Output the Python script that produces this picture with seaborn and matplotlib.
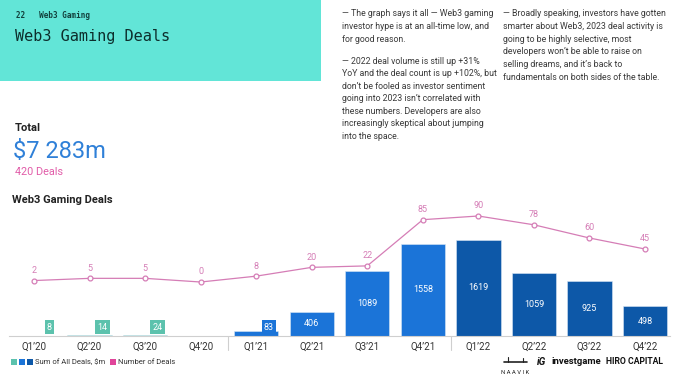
import matplotlib
matplotlib.use("Agg")
import matplotlib.pyplot as plt
import matplotlib.transforms as mtransforms
from matplotlib.patches import Rectangle
from matplotlib.lines import Line2D
import seaborn as sns
import pandas as pd

quarters = ["Q1’20", "Q2’20", "Q3’20", "Q4’20", "Q1’21", "Q2’21",
            "Q3’21", "Q4’21", "Q1’22", "Q2’22", "Q3’22", "Q4’22"]
deal_sum = [8, 14, 24, 0, 83, 406, 1089, 1558, 1619, 1059, 925, 498]
deal_count = [2, 5, 5, 0, 8, 20, 22, 85, 90, 78, 60, 45]
years = ["2020"] * 4 + ["2021"] * 4 + ["2022"] * 4

year_colors = {"2020": "#5cc2ad", "2021": "#1b74d8", "2022": "#0d58a8"}
pink = "#d57db6"

df = pd.DataFrame({"quarter": quarters, "sum": deal_sum,
                   "count": deal_count, "year": years})
df["pos"] = range(len(df))

sns.set_style("white")
plt.rcParams["font.family"] = ["Roboto", "DejaVu Sans"]

W, H = 680, 379
fig = plt.figure(figsize=(W / 100, H / 100), dpi=100)

def fx(px):
    return px / W

def fy(py):
    return 1 - py / H

# header box
fig.patches.append(Rectangle((0, fy(81)), fx(321), 81 / H, transform=fig.transFigure,
                             facecolor="#62e5d7", edgecolor="none", zorder=0))
fig.text(fx(16), fy(15), "22   Web3 Gaming", family="DejaVu Sans Mono", fontsize=5.5,
         color="#12403c", va="center", fontweight="bold")
fig.text(fx(15), fy(36), "Web3 Gaming Deals", family="DejaVu Sans Mono", fontsize=11,
         color="#0d2e2c", va="center")

col1 = ["— The graph says it all — Web3 gaming",
        "investor hype is at an all-time low, and",
        "for good reason."]
col1b = ["— 2022 deal volume is still up +31%",
         "YoY and the deal count is up +102%, but",
         "don’t be fooled as investor sentiment",
         "going into 2023 isn’t correlated with",
         "these numbers. Developers are also",
         "increasingly skeptical about jumping",
         "into the space."]
col2 = ["— Broadly speaking, investors have gotten",
        "smarter about Web3, 2023 deal activity is",
        "going to be highly selective, most",
        "developers won’t be able to raise on",
        "selling dreams, and it’s back to",
        "fundamentals on both sides of the table."]
txt_kw = dict(fontsize=6.3, color="#3a3a3a", va="center", family="Roboto")
for i, line in enumerate(col1):
    fig.text(fx(342), fy(14 + i * 12.6), line, **txt_kw)
for i, line in enumerate(col1b):
    fig.text(fx(342), fy(61 + i * 12.6), line, **txt_kw)
for i, line in enumerate(col2):
    fig.text(fx(503), fy(14 + i * 12.6), line, **txt_kw)

fig.text(fx(15), fy(128), "Total", fontsize=8, fontweight="bold", color="#222", va="center")
fig.text(fx(13), fy(152), "$7 283m", fontsize=17, color="#2f80d8", va="center")
fig.text(fx(15), fy(172), "420 Deals", fontsize=7.8, color="#e15ca8", va="center")
fig.text(fx(12), fy(200), "Web3 Gaming Deals", fontsize=8, fontweight="bold",
         color="#222", va="center")

# chart
ax = fig.add_axes([fx(9), fy(336), fx(661), (336 - 205) / H])
sns.barplot(data=df, x="quarter", y="sum", hue="quarter",
            palette=[year_colors[y] for y in years], legend=False, saturation=1,
            width=0.8, edgecolor="#d8e6f5", linewidth=0.4, ax=ax, zorder=2)
ax.set_xlim(-0.45, 11.45)
ax.set_ylim(0, 2209)
ax.set_yticks([])
ax.set_ylabel("")
ax.set_xlabel("")
sns.despine(ax=ax, left=True, right=True, top=True, bottom=False)
ax.spines["bottom"].set_color("#cfcfcf")
ax.spines["bottom"].set_linewidth(0.8)
ax.tick_params(axis="x", length=0, pad=4, labelsize=7, labelcolor="#333")

for i, row in df.iterrows():
    c = year_colors[row["year"]]
    if row["sum"] >= 300:
        ax.text(i, row["sum"] / 2, str(row["sum"]), ha="center", va="center",
                color="white", fontsize=6.5, zorder=4)
    elif row["sum"] > 0:
        ax.annotate(str(row["sum"]), xy=(i + 0.4, 0), xytext=(-3.2, 3.2),
                    textcoords="offset points", ha="right", va="bottom",
                    color="white", fontsize=6.5, zorder=4,
                    bbox=dict(boxstyle="square,pad=0.25", facecolor=c, edgecolor="none"))

trans = mtransforms.blended_transform_factory(ax.transData, ax.transAxes)
for xs in (3.5, 7.5):
    ax.plot([xs, xs], [0, -0.11], transform=trans, color="#cfcfcf", lw=0.8, clip_on=False)

ax2 = ax.twinx()
sns.lineplot(data=df, x="pos", y="count", ax=ax2, color=pink, linewidth=0.9,
             marker="o", markersize=3.5, markerfacecolor="white",
             markeredgecolor=pink, markeredgewidth=0.9, zorder=5)
ax2.set_ylim(-73.6, 105)
ax2.set_xlim(-0.45, 11.45)
ax2.set_yticks([])
ax2.set_ylabel("")
ax2.set_xlabel("")
for s in ax2.spines.values():
    s.set_visible(False)
for i, row in df.iterrows():
    ax2.annotate(str(row["count"]), xy=(i, row["count"]), xytext=(0, 4),
                 textcoords="offset points", ha="center", va="bottom",
                 color=pink, fontsize=6.5)

# legend
ly = 362
for k, c in enumerate(["#5cc2ad", "#1b74d8", "#0d58a8"]):
    fig.patches.append(Rectangle((fx(11 + k * 8), fy(ly + 3)), fx(6), 6 / H,
                                 transform=fig.transFigure, facecolor=c, edgecolor="none"))
fig.text(fx(35), fy(ly), "Sum of All Deals, $m", fontsize=5.5, color="#333", va="center")
fig.patches.append(Rectangle((fx(110), fy(ly + 3)), fx(6), 6 / H,
                             transform=fig.transFigure, facecolor="#e0449a", edgecolor="none"))
fig.text(fx(118), fy(ly), "Number of Deals", fontsize=5.5, color="#333", va="center")

# partner logos
fig.text(fx(515), fy(373), "N A A V I K", fontsize=4.2, color="#222", ha="center", va="center")
fig.lines.append(Line2D([fx(504), fx(527)], [fy(362), fy(362)], transform=fig.transFigure,
                        color="#222", lw=1.2))
fig.lines.append(Line2D([fx(508), fx(508)], [fy(362), fy(357)], transform=fig.transFigure,
                        color="#222", lw=0.8))
fig.lines.append(Line2D([fx(523), fx(523)], [fy(362), fy(358)], transform=fig.transFigure,
                        color="#222", lw=0.8))
fig.text(fx(537), fy(362), "iG", fontsize=7.2, fontweight="bold", style="italic",
         color="#111", va="center")
fig.text(fx(551), fy(362), "investgame", fontsize=6.8, fontweight="bold", color="#111",
         va="center")
fig.text(fx(606), fy(362), "HIRO CAPITAL", fontsize=6.2, fontweight="bold", color="#111",
         va="center")

fig.savefig("out.png", dpi=100, facecolor="white")
